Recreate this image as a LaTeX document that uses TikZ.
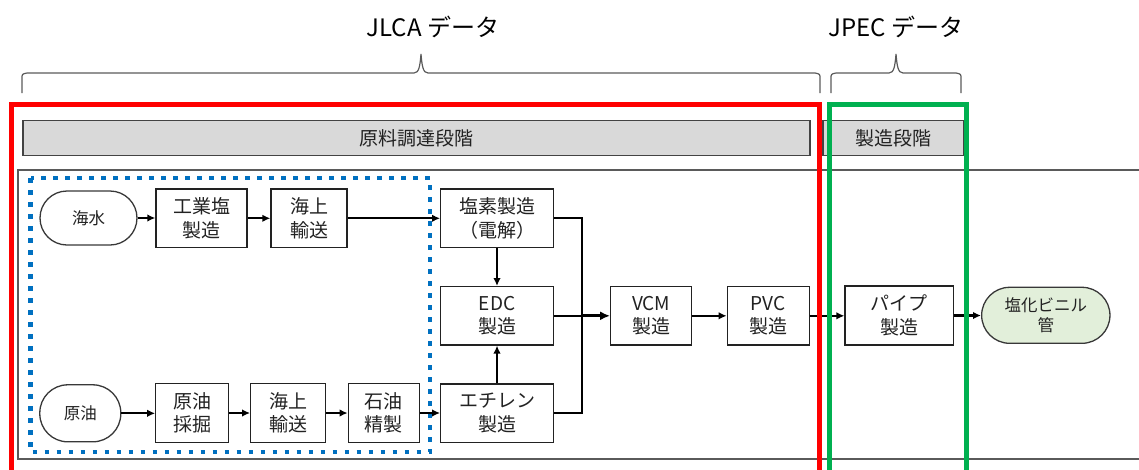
\documentclass[tikz,border=0pt]{standalone}
\usepackage{fontspec}
\setmainfont{Noto Sans CJK JP}
\usetikzlibrary{arrows.meta}
\definecolor{frred}{HTML}{FF0000}
\definecolor{frgreen}{HTML}{00B050}
\definecolor{dotblue}{HTML}{0070C0}
\definecolor{barfill}{HTML}{D9D9D9}
\definecolor{prodfill}{HTML}{E2EFDA}
\definecolor{linegray}{HTML}{5A5A5A}
\definecolor{ink}{HTML}{222222}
\tikzset{
  toplabel/.style={font=\fontsize{24}{28}\selectfont, text=black, inner sep=0},
  bracestyle/.style={draw=linegray, line width=1.2pt},
  barbox/.style={draw=ink!85, fill=barfill, line width=1.4pt},
  bartext/.style={font=\fontsize{19}{22}\selectfont, text=ink, inner sep=0},
  procbox/.style={draw=ink, fill=white, line width=1.3pt, inner sep=0, align=center,
    font=\fontsize{19}{23.5}\selectfont, text=ink},
  termbox/.style={draw=ink!90, fill=white, line width=1.3pt, inner sep=0, align=center,
    font=\fontsize{16.5}{20}\selectfont, text=ink},
  flow/.style={draw=black, line width=2.2pt, -{Latex[length=8pt,width=7.5pt]}},
  bigflow/.style={draw=black, line width=2.8pt, -{Latex[length=10pt,width=9pt]}},
  joinline/.style={draw=black, line width=2.2pt},
  frame/.style={line width=5pt},
}
\begin{document}
\begin{tikzpicture}[x=1pt,y=-1pt]
\useasboundingbox (0,0) rectangle (1139,469);

% top labels
\node[toplabel] (jlca) at (433,27) {JLCA データ};
\node[toplabel] (jpec) at (896,27) {JPEC データ};

% braces
\draw[bracestyle] (22,93) -- (22,79) .. controls (22,74) .. (27,73) -- (414,73)
  .. controls (419,73) and (420,66) .. (421,54) .. controls (422,66) and (423,73) .. (428,73)
  -- (815,73) .. controls (820,74) .. (820,79) -- (820,93);
\draw[bracestyle] (831,93) -- (831,79) .. controls (831,74) .. (836,73) -- (889,73)
  .. controls (894,73) and (895,66) .. (896,54) .. controls (897,66) and (898,73) .. (903,73)
  -- (956,73) .. controls (961,74) .. (961,79) -- (961,93);

% inner frame
\draw[linegray, line width=2pt] (1145,170) -- (18,170) -- (18,459) -- (1145,459);

% stage bars
\draw[barbox] (23,120.5) rectangle (810,155.5);
\node[bartext] (stage1) at (416.5,138) {原料調達段階};
\draw[barbox] (823,120.5) rectangle (964,155.5);
\node[bartext] (stage2) at (893.5,138) {製造段階};

% dotted boundary
\draw[dotblue, line width=4.6pt, dash pattern=on 4.6pt off 7.4pt] (30.5,178) rectangle (430,452);

% nodes
\node[termbox, minimum width=97pt, minimum height=54pt, rounded corners=27pt] (sea) at (88.5,218) {海水};
\node[procbox, minimum width=91pt, minimum height=58.5pt] (salt) at (201.5,218.3) {工業塩\\製造};
\node[procbox, minimum width=76pt, minimum height=58.5pt] (shipa) at (309,218.3) {海上\\輸送};
\node[procbox, minimum width=112.6pt, minimum height=58.3pt] (chlor) at (497,218.2) {塩素製造\\（電解）};
\node[procbox, minimum width=112.6pt, minimum height=58.3pt] (edc) at (497,315.8) {EDC\\製造};
\node[procbox, minimum width=112.6pt, minimum height=58.3pt] (eth) at (497,413.2) {エチレン\\製造};
\node[termbox, minimum width=81pt, minimum height=57pt, rounded corners=28pt] (crude) at (80.3,413.3) {原油};
\node[procbox, minimum width=73pt, minimum height=59pt] (mine) at (192.3,413) {原油\\採掘};
\node[procbox, minimum width=75pt, minimum height=59pt] (shipb) at (288.2,413) {海上\\輸送};
\node[procbox, minimum width=71pt, minimum height=59pt] (refine) at (383.8,413) {石油\\精製};
\node[procbox, minimum width=81pt, minimum height=58.3pt] (vcm) at (651.2,315.8) {VCM\\製造};
\node[procbox, minimum width=82pt, minimum height=58.3pt] (pvc) at (768.3,315.8) {PVC\\製造};
\node[procbox, minimum width=108.3pt, minimum height=59pt] (pipe) at (899.2,315.5) {パイプ\\製造};
\node[termbox, fill=prodfill, minimum width=128.3pt, minimum height=56pt, rounded corners=28pt] (prod) at (1045.8,315.3) {塩化ビニル\\管};

% connectors
\draw[flow] (sea.east) -- (sea.east -| salt.west);
\draw[flow] (salt.east) -- (salt.east -| shipa.west);
\draw[flow] (shipa.east) -- (shipa.east -| chlor.west);
\draw[flow] (crude.east) -- (crude.east -| mine.west);
\draw[flow] (mine.east) -- (mine.east -| shipb.west);
\draw[flow] (shipb.east) -- (shipb.east -| refine.west);
\draw[flow] (refine.east) -- (refine.east -| eth.west);
\draw[flow] (chlor.south) -- (edc.north);
\draw[flow] (eth.north) -- (edc.south);
\coordinate (merge) at (581.7,315.8);
\draw[joinline] (chlor.east) -| (merge) |- (eth.east);
\draw[joinline] (edc.east) -- (merge);
\draw[bigflow] (merge) -- (vcm.west);
\draw[flow] (vcm.east) -- (pvc.west);
\draw[flow] (pvc.east) -- (pvc.east -| pipe.west);
\draw[flow] (pipe.east) -- (pipe.east -| prod.west);

% data frames
\draw[frame, frred] (11,475) -- (11,104) -- (819.7,104) -- (819.7,475);
\draw[frame, frgreen] (829.3,475) -- (829.3,104) -- (966,104) -- (966,475);
\end{tikzpicture}
\end{document}
